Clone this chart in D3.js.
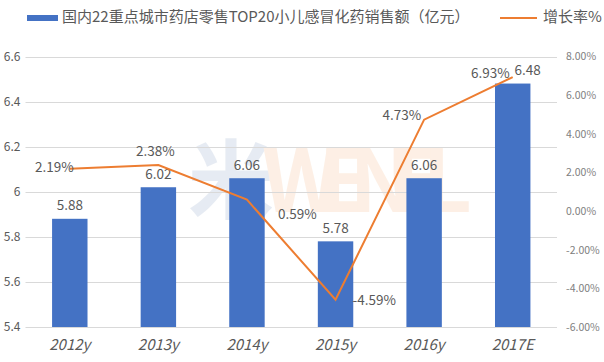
<!DOCTYPE html>
<html>
<head>
<meta charset="utf-8">
<script src="https://cdn.jsdelivr.net/npm/d3@7"></script>
<style>
  body { margin: 0; background: #fff; }
  text { font-family: "Noto Sans CJK SC", "Noto Sans", sans-serif; }
</style>
</head>
<body>
<div class="chart"></div>
<script>
const width = 604
const height = 362

const years = ["2012y", "2013y", "2014y", "2015y", "2016y", "2017E"]
const sales = [5.88, 6.02, 6.06, 5.78, 6.06, 6.48]
const growth = [2.19, 2.38, 0.59, -4.59, 4.73, 6.93]
const leftTicks = [5.4, 5.6, 5.8, 6, 6.2, 6.4, 6.6]
const rightTicks = [-6, -4, -2, 0, 2, 4, 6, 8]

// where each growth label sits relative to its point
const growthLabelPos = [
    {dx: 4, dy: 0, anchor: "end"},
    {dx: -3, dy: -13, anchor: "middle"},
    {dx: 31, dy: 16, anchor: "start"},
    {dx: 17, dy: 2, anchor: "start"},
    {dx: -3, dy: -3, anchor: "end"},
    {dx: -3, dy: -3, anchor: "end"},
]

const data = years.map((y, i) => ({year: y, sales: sales[i], growth: growth[i]}))

const svg = d3.select(".chart")
    .append("svg")
    .attr("width", width)
    .attr("height", height)

const margin = {top: 56.5, right: 47, bottom: 35, left: 25.5}

const xScale = d3.scaleBand()
    .domain(years)
    .range([margin.left, width - margin.right])
    .paddingInner(0.6)
    .paddingOuter(0.3)

const yLeft = d3.scaleLinear()
    .domain([5.4, 6.6])
    .range([height - margin.bottom, margin.top])

const yRight = d3.scaleLinear()
    .domain([-6, 8])
    .range([height - margin.bottom, margin.top])

// watermark
const wm = svg.append("g").attr("opacity", 0.13)
wm.append("text")
    .attr("x", 188).attr("y", 212)
    .attr("font-size", 86).attr("font-weight", "bold")
    .attr("fill", "#4a6fa5")
    .text("米")
wm.append("text")
    .attr("x", 262).attr("y", 212)
    .attr("font-size", 86).attr("font-weight", "bold")
    .attr("fill", "#f08c3c")
    .attr("textLength", 210)
    .text("WENEL")

// gridlines
svg.append("g")
    .selectAll("line")
    .data(leftTicks)
    .enter().append("line")
        .attr("x1", margin.left)
        .attr("x2", width - margin.right)
        .attr("y1", d => Math.round(yLeft(d)) + 0.5)
        .attr("y2", d => Math.round(yLeft(d)) + 0.5)
        .attr("stroke", "#d9d9d9")
        .attr("stroke-width", 1)

// left axis
svg.append("g")
    .attr("transform", `translate(${margin.left - 5}, 0)`)
    .call(d3.axisLeft(yLeft).tickValues(leftTicks).tickSize(0).tickPadding(0).tickFormat(d3.format("")))
    .call(g => g.select(".domain").remove())
    .selectAll("text")
        .attr("font-size", 12)
        .attr("fill", "#595959")

// right axis
svg.append("g")
    .attr("transform", `translate(${width - margin.right + 9}, 0)`)
    .call(d3.axisRight(yRight).tickValues(rightTicks).tickSize(0).tickPadding(0).tickFormat(d => d.toFixed(2) + "%"))
    .call(g => g.select(".domain").remove())
    .selectAll("text")
        .attr("font-size", 10.5)
        .attr("fill", "#808080")

// x axis
svg.append("g")
    .attr("transform", `translate(0, ${height - margin.bottom})`)
    .call(d3.axisBottom(xScale).tickSize(0).tickPadding(12))
    .call(g => g.select(".domain").remove())
    .selectAll("text")
        .attr("font-size", 15)
        .attr("font-style", "italic")
        .attr("fill", "#595959")

// bars
svg.selectAll("rect.bar")
    .data(data)
    .enter().append("rect")
        .attr("class", "bar")
        .attr("x", d => xScale(d.year))
        .attr("y", d => yLeft(d.sales))
        .attr("width", xScale.bandwidth())
        .attr("height", d => yLeft(5.4) - yLeft(d.sales))
        .attr("fill", "#4472c4")

svg.selectAll("text.val")
    .data(data)
    .enter().append("text")
        .attr("class", "val")
        .attr("x", (d, i) => xScale(d.year) + xScale.bandwidth() / 2 + (i === data.length - 1 ? 15 : 0))
        .attr("y", d => yLeft(d.sales) - 12)
        .attr("text-anchor", "middle")
        .attr("dominant-baseline", "middle")
        .attr("font-size", 13.5)
        .attr("fill", "#595959")
        .text(d => d3.format(".2f")(d.sales))

// growth line
const line = d3.line()
    .x(d => xScale(d.year) + xScale.bandwidth() / 2)
    .y(d => yRight(d.growth))

svg.append("path")
    .datum(data)
    .attr("d", line)
    .attr("fill", "none")
    .attr("stroke", "#ed7d31")
    .attr("stroke-width", 2)

svg.selectAll("text.pct")
    .data(data)
    .enter().append("text")
        .attr("class", "pct")
        .attr("x", (d, i) => xScale(d.year) + xScale.bandwidth() / 2 + growthLabelPos[i].dx)
        .attr("y", (d, i) => yRight(d.growth) + growthLabelPos[i].dy)
        .attr("text-anchor", (d, i) => growthLabelPos[i].anchor)
        .attr("dominant-baseline", "middle")
        .attr("font-size", 13.5)
        .attr("fill", "#595959")
        .text(d => d.growth.toFixed(2) + "%")

// legend
const legend = svg.append("g")
legend.append("rect")
    .attr("x", 27).attr("y", 15)
    .attr("width", 31).attr("height", 6)
    .attr("fill", "#4472c4")
legend.append("text")
    .attr("x", 62).attr("y", 18)
    .attr("dominant-baseline", "middle")
    .attr("font-size", 15)
    .attr("fill", "#595959")
    .text("国内22重点城市药店零售TOP20小儿感冒化药销售额（亿元）")
legend.append("line")
    .attr("x1", 500).attr("x2", 537)
    .attr("y1", 18).attr("y2", 18)
    .attr("stroke", "#ed7d31")
    .attr("stroke-width", 2)
legend.append("text")
    .attr("x", 543).attr("y", 18)
    .attr("dominant-baseline", "middle")
    .attr("font-size", 15)
    .attr("fill", "#595959")
    .text("增长率%")
</script>
</body>
</html>
